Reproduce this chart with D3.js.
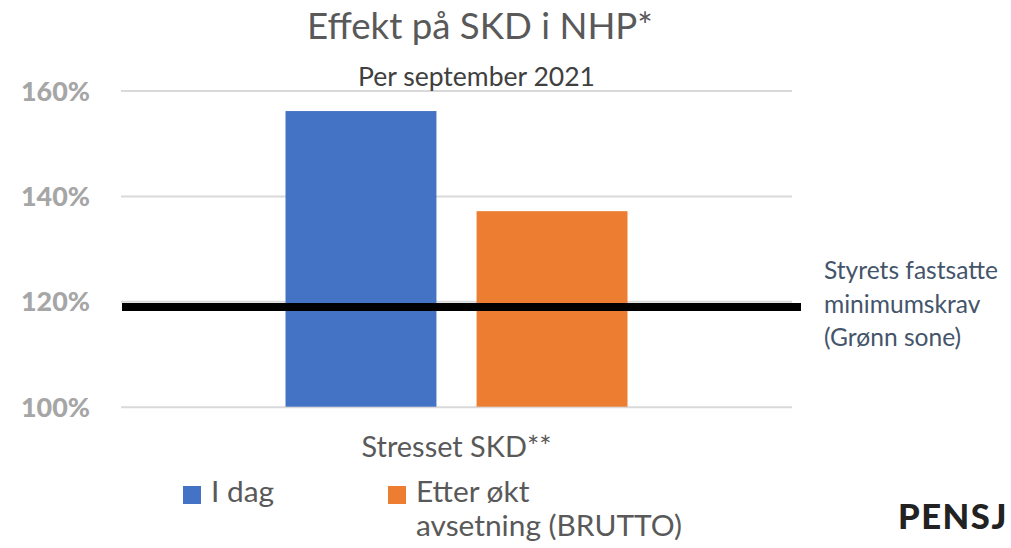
<!DOCTYPE html>
<html>
<head>
<meta charset="utf-8">
<script src="https://cdn.jsdelivr.net/npm/d3@7"></script>
<style>
  html, body { margin: 0; padding: 0; background: #fff; }
  svg { display: block; }
  text { font-family: Lato, "Open Sans", "Noto Sans", sans-serif; }
</style>
</head>
<body>
<svg id="chart" width="1011" height="548"></svg>
<script>
// ---- data ----
const categories = ["Stresset SKD**"];
const seriesNames = ["I dag", "Etter økt avsetning (BRUTTO)"];
const seriesValues = [156.1, 137.1];          // percent
const thresholdValue = 118.9;                 // Styrets fastsatte minimumskrav
const thresholdLabel = ["Styrets fastsatte", "minimumskrav", "(Grønn sone)"];
const yTicks = [100, 120, 140, 160];
const titleText = "Effekt på SKD i NHP*";
const subtitleText = "Per september 2021";
const legendLines = [["I dag"], ["Etter økt", "avsetning (BRUTTO)"]];
const logoText = "PENSJ";

// ---- setup ----
const colors = ["#4472C4", "#ED7D31"];
const svg = d3.select("#chart");
const plot = { left: 121, right: 792, top: 90.5, bottom: 406.7 };

const y = d3.scaleLinear().domain([100, 160]).range([plot.bottom, plot.top]);
const x0 = d3.scaleBand().domain(categories).range([plot.left, plot.right])
  .paddingInner(0).paddingOuter(0.481);
const x1 = d3.scaleBand().domain(d3.range(seriesValues.length))
  .range([0, x0.bandwidth()]).paddingInner(0.21).paddingOuter(0);

function fit(sel, width, node) {
  node = node || sel.node();
  const base = parseFloat(sel.attr("font-size"));
  const w = node.getComputedTextLength();
  if (w > 0) sel.attr("font-size", (base * width / w).toFixed(2));
  return sel;
}

// gridlines
svg.append("g")
  .attr("transform", `translate(${plot.left},0)`)
  .call(d3.axisLeft(y).tickValues(yTicks).tickSize(-(plot.right - plot.left)).tickFormat(""))
  .call(g => g.select(".domain").remove())
  .call(g => g.selectAll("line").attr("stroke", "#D9D9D9").attr("stroke-width", 2));

// y labels
const yAxis = svg.append("g")
  .attr("transform", `translate(90,0)`)
  .call(d3.axisLeft(y).tickValues(yTicks).tickSize(0).tickPadding(0).tickFormat(d => d + "%"))
  .call(g => g.select(".domain").remove());
yAxis.selectAll("text")
  .attr("dy", null)
  .attr("y", 9.5)
  .attr("font-size", 24)
  .attr("font-weight", "900")
  .attr("fill", "#A6A6A6")
  .style("font-family", "Lato, 'Open Sans', sans-serif")
  .each(function () { fit(d3.select(this), 69); });

// bars
svg.append("g").selectAll("rect")
  .data(seriesValues)
  .join("rect")
  .attr("x", (d, i) => x0(categories[0]) + x1(i))
  .attr("width", x1.bandwidth())
  .attr("y", d => y(d))
  .attr("height", d => y(100) - y(d))
  .attr("fill", (d, i) => colors[i]);

// threshold line
svg.append("line")
  .attr("x1", plot.left + 1).attr("x2", 801)
  .attr("y1", y(thresholdValue)).attr("y2", y(thresholdValue))
  .attr("stroke", "#000").attr("stroke-width", 8);

// threshold label (one text, three lines)
const lbl = svg.append("text").attr("fill", "#44546A")
  .attr("x", 824).attr("y", 279).attr("font-size", 22);
thresholdLabel.forEach((t, i) => {
  lbl.append("tspan").attr("x", 824).attr("dy", i === 0 ? 0 : 33.5).text(t);
});
fit(lbl, 174, lbl.select("tspan").node());

// title
fit(svg.append("text").attr("x", 480).attr("y", 39).attr("text-anchor", "middle")
  .attr("font-size", 34).attr("fill", "#595959").text(titleText), 346);
fit(svg.append("text").attr("x", 476.5).attr("y", 86).attr("text-anchor", "middle")
  .attr("font-size", 22).attr("fill", "#404040").text(subtitleText), 237);

// category label
svg.append("g").selectAll("text").data(categories).join("text")
  .attr("x", d => x0(d) + x0.bandwidth() / 2)
  .attr("y", 457).attr("text-anchor", "middle")
  .attr("font-size", 24).attr("fill", "#595959").text(d => d)
  .each(function () { fit(d3.select(this), 190); });

// legend
const legendX = [183, 388];
const lg = svg.append("g");
const legendItems = lg.selectAll("g").data(seriesNames).join("g");
legendItems.append("rect")
  .attr("x", (d, i) => legendX[i]).attr("y", 486)
  .attr("width", 18).attr("height", 18)
  .attr("fill", (d, i) => colors[i]);
const lgTexts = [];
legendItems.each(function (d, i) {
  const t = d3.select(this).append("text")
    .attr("x", legendX[i] + 28).attr("y", 502)
    .attr("font-size", 24).attr("fill", "#595959");
  legendLines[i].forEach((line, j) => {
    t.append("tspan").attr("x", legendX[i] + 28).attr("dy", j === 0 ? 0 : 34).text(line);
  });
  lgTexts.push(t);
});
{
  const t = lgTexts[1];
  fit(t, 266, t.selectAll("tspan").nodes()[1]);
  lgTexts[0].attr("font-size", t.attr("font-size"));
}

// logo fragment
fit(svg.append("text").attr("x", 898).attr("y", 529)
  .attr("font-size", 34).attr("font-weight", 900).attr("fill", "#222")
  .attr("letter-spacing", 1.5)
  .style("font-family", "Lato, 'Open Sans', sans-serif")
  .text(logoText), 110);
</script>
</body>
</html>
